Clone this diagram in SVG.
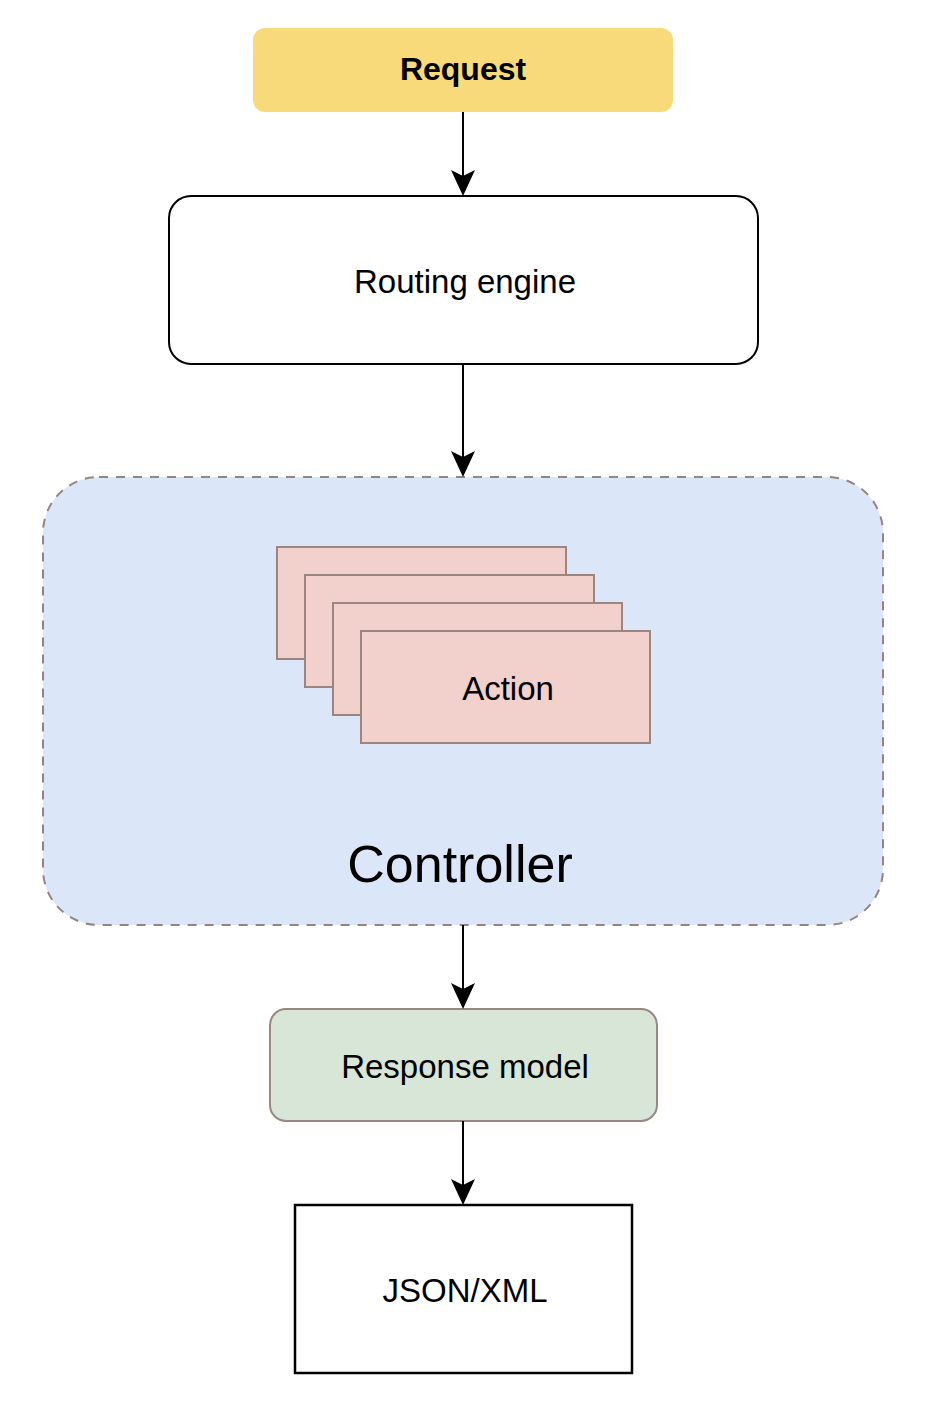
<svg xmlns="http://www.w3.org/2000/svg" width="932" height="1407" viewBox="0 0 932 1407">
<style>
text{font-family:"Liberation Sans",Arial,sans-serif;font-size:33px;fill:#000;text-anchor:middle}
.edge{stroke:#000;stroke-width:2;fill:none}
.act{fill:#F2D1CC;stroke:#9A8580;stroke-width:2}
.head{fill:#000}
</style>
<rect width="932" height="1407" fill="#fff"/>
<g id="request">
<rect x="253" y="28" width="420" height="84" rx="12" fill="#F8DA7A"/>
<text x="463" y="80" font-weight="bold" style="font-size:32px">Request</text>
</g>
<g id="routing">
<rect x="169" y="196" width="589" height="168" rx="22" fill="#fff" stroke="#000" stroke-width="2"/>
<text x="465" y="293">Routing engine</text>
</g>
<g id="controller">
<rect x="43" y="477" width="840" height="448" rx="56" fill="#DBE7F9" stroke="#958580" stroke-width="2" stroke-dasharray="9 8"/>
<text x="460" y="882" style="font-size:52px">Controller</text>
</g>
<g id="actions">
<rect class="act" x="277" y="547" width="289" height="112"/>
<rect class="act" x="305" y="575" width="289" height="112"/>
<rect class="act" x="333" y="603" width="289" height="112"/>
<rect class="act" x="361" y="631" width="289" height="112"/>
<text x="508" y="700">Action</text>
</g>
<g id="response">
<rect x="270" y="1009" width="387" height="112" rx="16" fill="#D7E6D6" stroke="#9A8782" stroke-width="2"/>
<text x="465" y="1078">Response model</text>
</g>
<g id="json">
<rect x="295" y="1205" width="337" height="168" fill="#fff" stroke="#000" stroke-width="2.5"/>
<text x="465" y="1302">JSON/XML</text>
</g>
<g id="connectors">
<line class="edge" x1="463" y1="112" x2="463" y2="180"/>
<polygon class="head" points="451,170 463,176 475,170 463,196"/>
<line class="edge" x1="463" y1="364" x2="463" y2="461"/>
<polygon class="head" points="451,451 463,457 475,451 463,477"/>
<line class="edge" x1="463" y1="925" x2="463" y2="993"/>
<polygon class="head" points="451,983 463,989 475,983 463,1009"/>
<line class="edge" x1="463" y1="1121" x2="463" y2="1189"/>
<polygon class="head" points="451,1179 463,1185 475,1179 463,1205"/>
</g>
</svg>
